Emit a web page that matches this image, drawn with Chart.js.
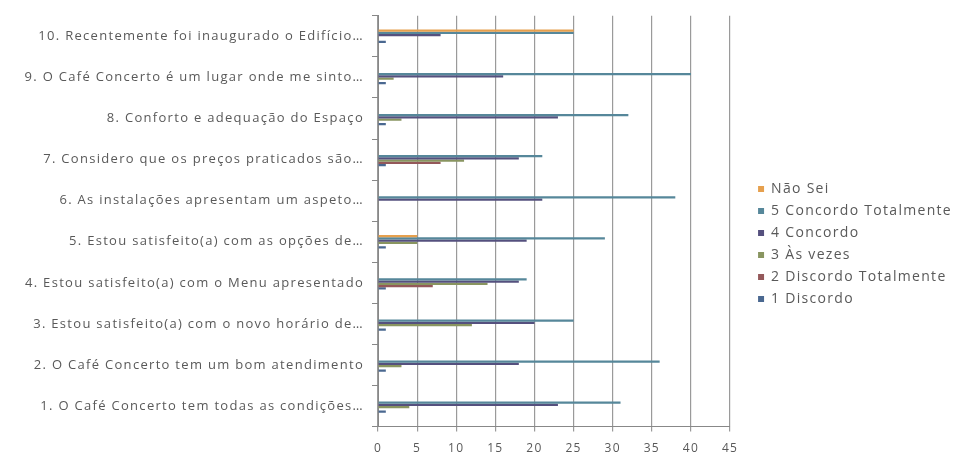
<!DOCTYPE html>
<html>
<head>
    <title>Café Concerto - Questionário</title>
    <script src="https://cdn.jsdelivr.net/npm/chart.js"></script>
    <style>
        body { margin: 0; background: #fff; }
        #chartContainer { width: 954px; height: 466px; }
    </style>
</head>
<body>

    <div id="chartContainer">
        <canvas id="dataChart"></canvas>
    </div>

    <script>
        // Questions, top to bottom
        var questions = [
            "10. Recentemente foi inaugurado o Edifício…",
            "9. O Café Concerto é um lugar onde me sinto…",
            "8. Conforto e adequação do Espaço",
            "7. Considero que os preços praticados são…",
            "6. As instalações apresentam um aspeto…",
            "5. Estou satisfeito(a) com as opções de…",
            "4. Estou satisfeito(a) com o Menu apresentado",
            "3. Estou satisfeito(a) com o novo horário de…",
            "2. O Café Concerto tem um bom atendimento",
            "1. O Café Concerto tem todas as condições…"
        ];

        // Number of answers per option, same order as the questions
        var naoSei     = [25, 0, 0, 0, 0, 5, 0, 0, 0, 0];
        var concordoTotalmente = [25, 40, 32, 21, 38, 29, 19, 25, 36, 31];
        var concordo   = [8, 16, 23, 18, 21, 19, 18, 20, 18, 23];
        var asVezes    = [0, 2, 3, 11, 0, 5, 14, 12, 3, 4];
        var discordoTotalmente = [0, 0, 0, 8, 0, 0, 7, 0, 0, 0];
        var discordo   = [1, 1, 1, 1, 0, 1, 1, 1, 1, 1];

        var xTicks = [0, 5, 10, 15, 20, 25, 30, 35, 40, 45];

        var textGray = "#595959";

        function series(label, data, color) {
            return {
                label: label,
                data: data,
                backgroundColor: color,
                borderWidth: 0,
                barPercentage: 1.0,
                categoryPercentage: 0.33
            };
        }

        // wider letter spacing for all the chart text
        var spacedText = {
            id: "spacedText",
            beforeUpdate: function (chart) { chart.ctx.letterSpacing = "1.3px"; },
            beforeDraw: function (chart) { chart.ctx.letterSpacing = "1.3px"; }
        };

        // moves the legend off the plot a little
        var legendShift = {
            id: "legendShift",
            afterLayout: function (chart) {
                var lg = chart.legend;
                lg.left += 20; lg.right += 20;
                lg.top += 8; lg.bottom += 8;
            }
        };

        var chart = new Chart(document.getElementById("dataChart"), {
            type: "bar",
            data: {
                labels: questions,
                datasets: [
                    series("Não Sei", naoSei, "#e6a04e"),
                    series("5 Concordo Totalmente", concordoTotalmente, "#56879a"),
                    series("4 Concordo", concordo, "#55507e"),
                    series("3 Às vezes", asVezes, "#899560"),
                    series("2 Discordo Totalmente", discordoTotalmente, "#94585a"),
                    series("1 Discordo", discordo, "#4a6890")
                ]
            },
            options: {
                indexAxis: "y",
                responsive: true,
                maintainAspectRatio: false,
                animation: false,
                layout: { padding: { top: 6, right: 12, bottom: 0, left: 8 } },
                scales: {
                    x: {
                        min: 0,
                        max: 45,
                        afterBuildTicks: function (axis) {
                            axis.ticks = xTicks.map(function (v) { return { value: v }; });
                        },
                        grid: { color: "#9a9a9a", lineWidth: 1.2, tickLength: 5 },
                        border: { color: "#888888" },
                        ticks: { color: textGray, padding: 10, font: { family: "Open Sans", size: 12 } }
                    },
                    y: {
                        afterFit: function (scale) { scale.width = 370; },
                        grid: { drawOnChartArea: false, offset: true, tickLength: 6, color: "#888888" },
                        border: { color: "#888888" },
                        ticks: { color: textGray, padding: 8, autoSkip: false, font: { family: "Open Sans", size: 13 } }
                    }
                },
                plugins: {
                    legend: {
                        position: "right",
                        labels: {
                            boxWidth: 6,
                            boxHeight: 6,
                            padding: 8,
                            color: textGray,
                            font: { family: "Open Sans", size: 14 }
                        }
                    },
                    tooltip: { enabled: false }
                }
            },
            plugins: [spacedText, legendShift]
        });
    </script>

</body>
</html>
